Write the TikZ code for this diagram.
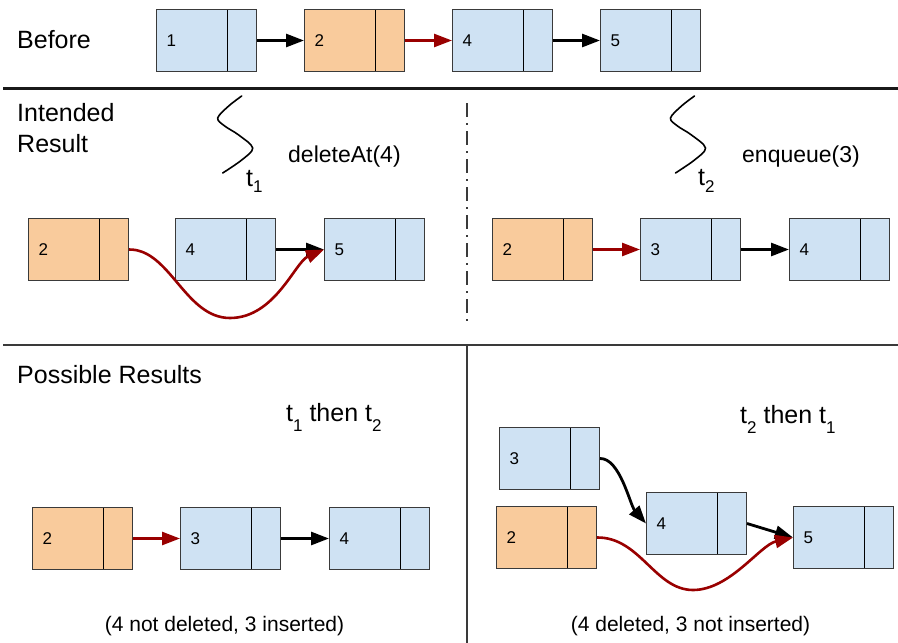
\documentclass[tikz,border=0pt]{standalone}
\usepackage{fontspec}
\setmainfont{Liberation Sans}
\usetikzlibrary{arrows.meta}
\definecolor{cellblue}{HTML}{CFE2F3}
\definecolor{cellorange}{HTML}{F9CB9C}
\definecolor{linkred}{HTML}{990000}
\definecolor{edgegray}{HTML}{3A3A3A}
% thread name with a lowered index
\newcommand\tsubx[2]{t\raisebox{-#2pt}{\fontsize{17}{17}\selectfont #1}}

\begin{document}
\begin{tikzpicture}[x=1pt,y=-1pt,
  cell/.style={draw=edgegray, line width=1pt, minimum width=100pt, minimum height=62pt,
    text width=80pt, inner xsep=10pt, inner ysep=0pt, align=left, anchor=north west,
    font=\fontsize{17}{20}\selectfont,
    path picture={\draw[black, line width=1pt]
      ([xshift=-29pt]path picture bounding box.north east) --
      ([xshift=-29pt]path picture bounding box.south east);}},
  blue cell/.style={cell, fill=cellblue},
  orange cell/.style={cell, fill=cellorange},
  nextlink/.style={line width=2.8pt, black, -{Triangle[length=18pt,width=13pt]}},
  redlink/.style={line width=2.6pt, linkred, -{Triangle[length=18pt,width=13pt]}},
  heading/.style={inner sep=0pt, anchor=base west, font=\fontsize{25}{31}\selectfont},
  opname/.style={inner sep=0pt, anchor=base west, font=\fontsize{23}{27}\selectfont},
  note/.style={inner sep=0pt, anchor=base, font=\fontsize{21}{25}\selectfont},
  thread/.pic={\draw[line width=1.6pt, line cap=round]
    plot[smooth, tension=0.55] coordinates {(0,0) (-13,10) (-24,22) (-17,30) (-3,39) (11,52) (0,64) (-19,77)};}
]
\useasboundingbox (0,0) rectangle (898,643);

% section separators
\draw[line width=3pt, black!90] (3,88) -- (898,88);
\draw[line width=2pt, edgegray] (3,345) -- (898,345);
\draw[line width=2pt, edgegray] (467,345) -- (467,643);
\draw[line width=1.5pt, edgegray, dash pattern=on 14pt off 6pt on 2pt off 6pt] (467,103) -- (467,323);

% ---- Before ----
\node[heading] (tBefore) at (17,48.3) {Before};
\node[blue cell]   (b1) at (156,9) {1};
\node[orange cell] (b2) at (304,9) {2};
\node[blue cell]   (b4) at (452,9) {4};
\node[blue cell]   (b5) at (600,9) {5};
\draw[nextlink] (b1.east) -- (b2.west);
\draw[redlink]  (b2.east) -- (b4.west);
\draw[nextlink] (b4.east) -- (b5.west);

% ---- Intended result ----
\node[inner sep=0pt, anchor=west, align=left, font=\fontsize{25}{31}\selectfont] (tIntended) at (17,128) {Intended\\Result};

\pic at (241.7,96) {thread};
\node[heading] (tT1) at (246,186) {\tsubx{1}{6}};
\node[opname] (tDel) at (288,162.7) {deleteAt(4)};

\node[orange cell] (i2) at (28,218) {2};
\node[blue cell]   (i4) at (175,218) {4};
\node[blue cell]   (i5) at (324,218) {5};
\draw[nextlink] (i4.east) -- (i5.west);
\draw[redlink] (i2.east) .. controls (170,249) and (185,318) .. (230,318)
                         .. controls (275,318) and (295,262) .. (i5.west);

\pic at (694.5,96) {thread};
\node[heading] (tT2) at (698,185) {\tsubx{2}{7}};
\node[opname] (tEnq) at (742,162) {enqueue(3)};

\node[orange cell] (j2) at (492,218) {2};
\node[blue cell]   (j3) at (640,218) {3};
\node[blue cell]   (j4) at (789,218) {4};
\draw[redlink]  (j2.east) -- (j3.west);
\draw[nextlink] (j3.east) -- (j4.west);

% ---- Possible results ----
\node[heading] (tPossible) at (17,383.3) {Possible Results};

\node[heading] (tOrder1) at (286,421.7) {\tsubx{1}{10} then \tsubx{2}{10}};
\node[orange cell] (p2) at (32,507) {2};
\node[blue cell]   (p3) at (180,507) {3};
\node[blue cell]   (p4) at (329,507) {4};
\draw[redlink]  (p2.east) -- (p3.west);
\draw[nextlink] (p3.east) -- (p4.west);
\node[note] (tNote1) at (224.5,631) {(4 not deleted, 3 inserted)};

\node[heading] (tOrder2) at (740,423.3) {\tsubx{2}{10} then \tsubx{1}{10}};
\node[blue cell]   (q3) at (499,427) {3};
\node[orange cell] (q2) at (496,506) {2};
\node[blue cell]   (q4) at (646,492) {4};
\node[blue cell]   (q5) at (793,506) {5};
\draw[nextlink] (q3.east) .. controls (620,458) and (630,505) .. (q4.west);
\draw[nextlink] (q4.east) -- (q5.west);
\draw[redlink] (q2.east) .. controls (640,537) and (655,590) .. (693,590)
                         .. controls (730,590) and (760,545) .. (q5.west);
\node[note] (tNote2) at (690.5,631) {(4 deleted, 3 not inserted)};
\end{tikzpicture}
\end{document}
